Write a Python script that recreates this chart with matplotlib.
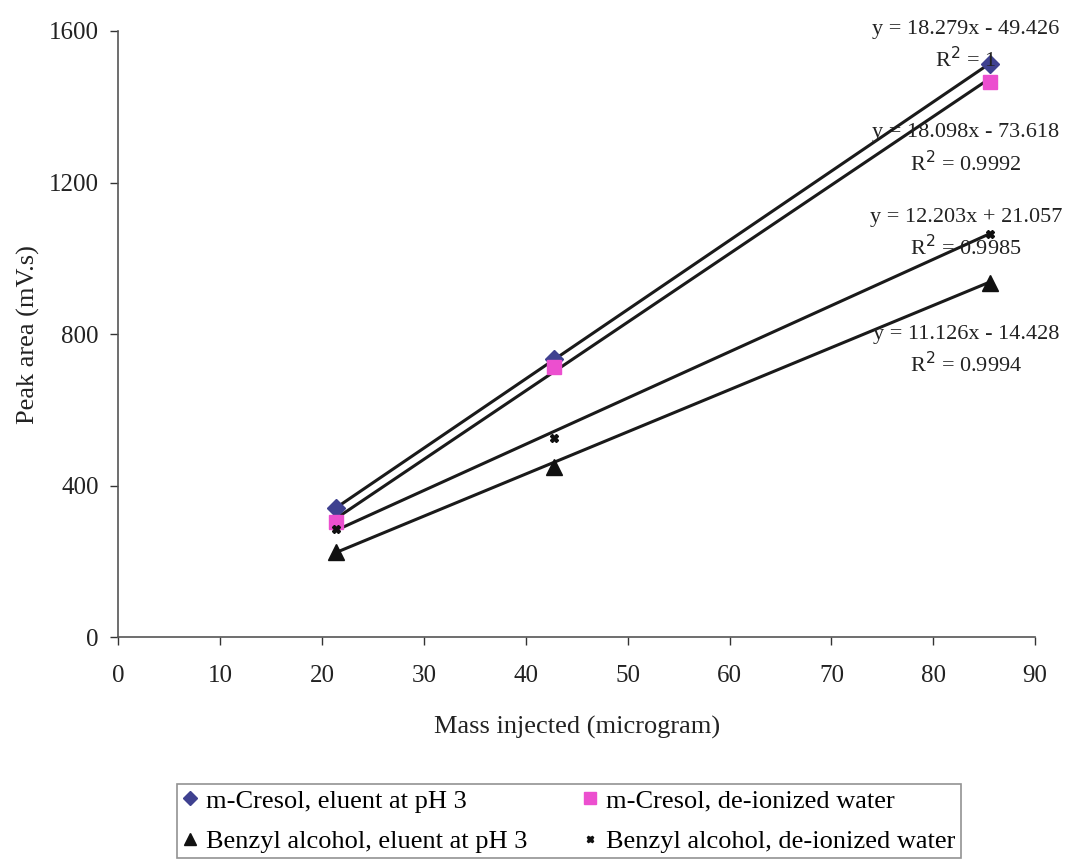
"""Peak area vs mass injected, with linear trendlines"""

import numpy as np
import matplotlib.pyplot as plt

plt.rcParams["font.family"] = ["Liberation Serif", "DejaVu Serif"]

mass = [21.4, 42.8, 85.6]

cresol_ph3 = [341, 733, 1512]
cresol_water = [305, 712, 1465]
benzyl_ph3 = [225, 449, 935]
benzyl_water = [285, 525, 1063]

slopes = [18.279, 18.098, 12.203, 11.126]
intercepts = [-49.426, -73.618, 21.057, -14.428]
r2_labels = ["1", "0.9992", "0.9985", "0.9994"]
eq_labels = ["y = 18.279x - 49.426", "y = 18.098x - 73.618",
             "y = 12.203x + 21.057", "y = 11.126x - 14.428"]
label_pos = [(83.2, 1560), (83.2, 1287), (83.2, 1063), (83.2, 756)]

series_labels = ["m-Cresol, eluent at pH 3", "m-Cresol, de-ionized water",
                 "Benzyl alcohol, eluent at pH 3", "Benzyl alcohol, de-ionized water"]

fig = plt.figure(figsize=(10.65, 8.61), dpi=100)
ax = fig.add_axes([0.111, 0.260, 0.861, 0.704])

# trendlines first, markers on top
x_fit = np.array([mass[0], mass[-1]])
for k, b in zip(slopes, intercepts):
    ax.plot(x_fit, k * x_fit + b, color="#1a1a1a", linewidth=2.2, zorder=2)

h1, = ax.plot(mass, cresol_ph3, linestyle="none", marker="D", markersize=9,
              color="#3f4190", label=series_labels[0], zorder=3)
h2, = ax.plot(mass, cresol_water, linestyle="none", marker="s", markersize=10,
              color="#ec4fcf", label=series_labels[1], zorder=3)
h3, = ax.plot(mass, benzyl_ph3, linestyle="none", marker="^", markersize=11,
              color="#111111", label=series_labels[2], zorder=3)
h4, = ax.plot(mass, benzyl_water, linestyle="none", marker="X", markersize=6,
              color="#111111", label=series_labels[3], zorder=3)

for eq, r2, (px, py) in zip(eq_labels, r2_labels, label_pos):
    ax.text(px, py, eq + "\n" + "R$^2$ = " + r2, ha="center", va="center",
            multialignment="center", fontsize=16, linespacing=1.4,
            color="#222222", clip_on=False, zorder=4)

ax.set_xlim(0, 90)
ax.set_ylim(0, 1600)
ax.set_xticks(range(0, 91, 10))
ax.set_yticks(range(0, 1601, 400))
ax.tick_params(labelsize=18, direction="out", length=6, width=1, colors="#333333",
               labelcolor="#222222")
ax.tick_params(axis="x", pad=14)
ax.tick_params(axis="y", pad=8)
for side in ["top", "right"]:
    ax.spines[side].set_visible(False)
for side in ["left", "bottom"]:
    ax.spines[side].set_color("#555555")
    ax.spines[side].set_linewidth(1.2)

ax.set_xlabel("Mass injected (microgram)", fontsize=19, labelpad=21, color="#222222")
ax.set_ylabel("Peak area (mV.s)", fontsize=19, labelpad=6, color="#222222")

leg = fig.legend([h1, h3, h2, h4],
                 [series_labels[0], series_labels[2], series_labels[1], series_labels[3]],
                 ncol=2, loc="lower center", bbox_to_anchor=(0.534, 0.003),
                 fontsize=19, frameon=True, fancybox=False, edgecolor="#777777",
                 handlelength=0.6, handletextpad=0.3, columnspacing=2.1,
                 borderpad=0.2, labelspacing=0.65, borderaxespad=0)
leg.get_frame().set_linewidth(1.2)
for h in leg.legend_handles:
    h.set_markersize(h.get_markersize() * 0.8)

plt.savefig("out.png", dpi=100)
plt.close()
